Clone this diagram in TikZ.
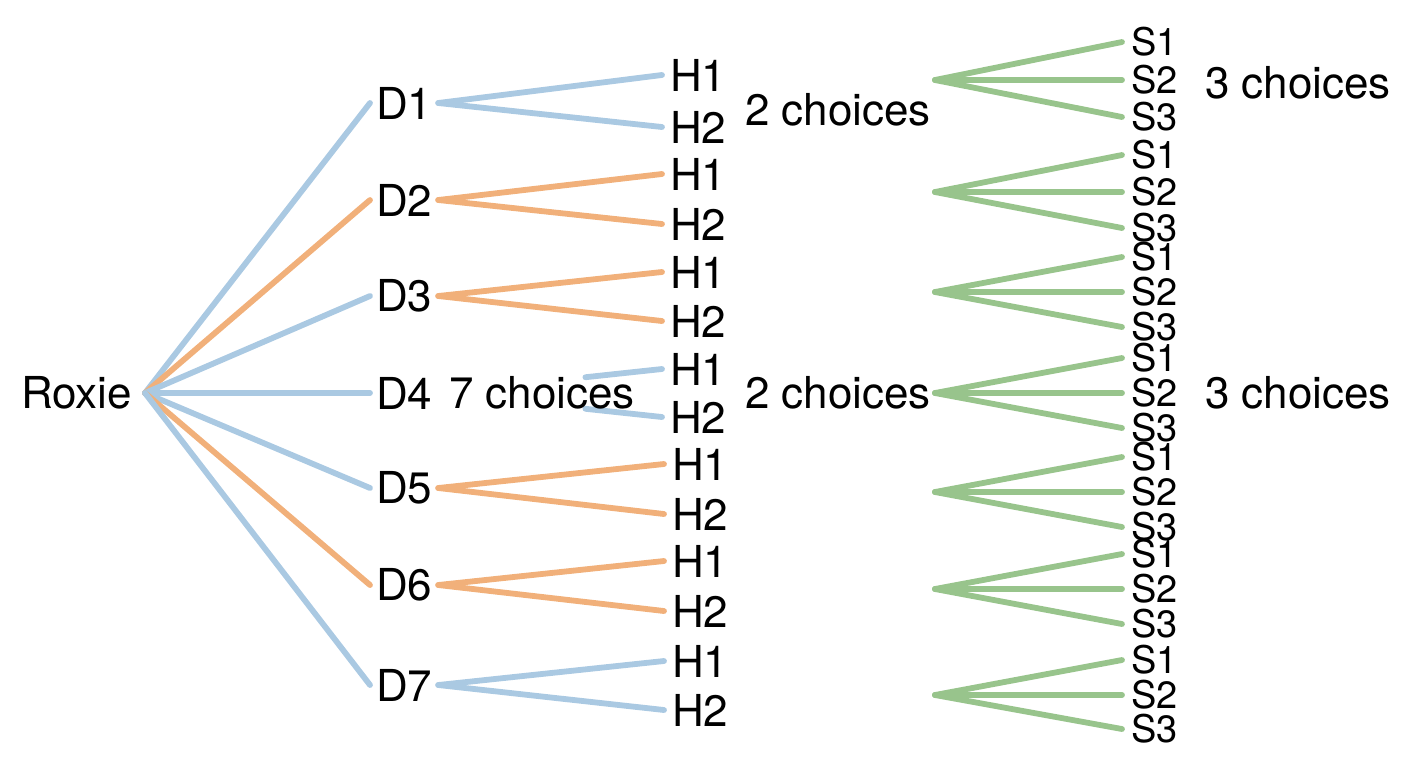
\documentclass[tikz,border=0pt]{standalone}
\usepackage{fontspec}
\setmainfont{TeX Gyre Heros}
\usepackage{tikz}

\definecolor{lineblue}{RGB}{170,201,226}
\definecolor{lineorange}{RGB}{241,176,122}
\definecolor{linegreen}{RGB}{152,196,140}

\begin{document}
\begin{tikzpicture}
	[
		x=0.5pt, y=-0.5pt,
		every node/.style = {font=\fontsize{22}{26}\selectfont, inner ysep=2pt, outer sep=0pt},
		dnode/.style = {anchor=west, inner xsep=3pt},
		hnode/.style = {anchor=west, inner xsep=4pt},
		snode/.style = {anchor=west, inner xsep=4.5pt, font=\fontsize{19}{22}\selectfont},
		branch/.style = {line width=2.9pt, line cap=round},
		bline/.style = {branch, draw=lineblue},
		oline/.style = {branch, draw=lineorange},
		gline/.style = {branch, draw=linegreen}
	]
	
	\useasboundingbox (0,0) rectangle (1408,768);
	
	\node [anchor=east, inner xsep=6.5pt] (root) at (145, 393) {Roxie};
	
	\def\y{103}
	
	\node [dnode] (d1) at (370, \y) {D1};
	\node [hnode] (h11) at (662, {\y - 28}) {H1};
	\node [hnode] (h12) at (662, {\y + 24}) {H2};
	
	\draw [bline] (root.east) -- (d1.west);
	\draw [bline] (d1.east) -- (h11.west);
	\draw [bline] (d1.east) -- (h12.west);
	
	\def\y{200}
	
	\node [dnode] (d2) at (370, \y) {D2};
	\node [hnode] (h21) at (662, {\y - 26}) {H1};
	\node [hnode] (h22) at (662, {\y + 24}) {H2};
	
	\draw [oline] (root.east) -- (d2.west);
	\draw [oline] (d2.east) -- (h21.west);
	\draw [oline] (d2.east) -- (h22.west);
	
	\def\y{296}
	
	\node [dnode] (d3) at (370, \y) {D3};
	\node [hnode] (h31) at (662, {\y - 24}) {H1};
	\node [hnode] (h32) at (662, {\y + 25}) {H2};
	
	\draw [bline] (root.east) -- (d3.west);
	\draw [oline] (d3.east) -- (h31.west);
	\draw [oline] (d3.east) -- (h32.west);
	
	\def\y{393}
	
	\node [dnode] (d4) at (370, \y) {D4};
	\node [hnode] (h41) at (662, {\y - 24}) {H1};
	\node [hnode] (h42) at (662, {\y + 24}) {H2};
	
	\draw [bline] (root.east) -- (d4.west);
	\draw [bline, shorten <=74pt] (d4.east) -- (h41.west);
	\draw [bline, shorten <=74pt] (d4.east) -- (h42.west);
	
	\def\y{488}
	
	\node [dnode] (d5) at (370, \y) {D5};
	\node [hnode] (h51) at (664, {\y - 24}) {H1};
	\node [hnode] (h52) at (664, {\y + 26}) {H2};
	
	\draw [bline] (root.east) -- (d5.west);
	\draw [oline] (d5.east) -- (h51.west);
	\draw [oline] (d5.east) -- (h52.west);
	
	\def\y{585}
	
	\node [dnode] (d6) at (370, \y) {D6};
	\node [hnode] (h61) at (664, {\y - 24}) {H1};
	\node [hnode] (h62) at (664, {\y + 26}) {H2};
	
	\draw [oline] (root.east) -- (d6.west);
	\draw [oline] (d6.east) -- (h61.west);
	\draw [oline] (d6.east) -- (h62.west);
	
	\def\y{685}
	
	\node [dnode] (d7) at (370, \y) {D7};
	\node [hnode] (h71) at (664, {\y - 24}) {H1};
	\node [hnode] (h72) at (664, {\y + 25}) {H2};
	
	\draw [bline] (root.east) -- (d7.west);
	\draw [bline] (d7.east) -- (h71.west);
	\draw [bline] (d7.east) -- (h72.west);
	
	\node (choices7) at (542, 393) {7 choices};
	\node (choicesha) at (838, 110) {2 choices};
	\node (choiceshb) at (838, 393) {2 choices};
	\node (choicessa) at (1298, 83) {3 choices};
	\node (choicessb) at (1298, 393) {3 choices};
	
	\def\y{80}
	
	\coordinate (s1) at (935, \y);
	\node [snode] (s11) at (1122, {\y - 38}) {S1};
	\node [snode] (s12) at (1122, \y) {S2};
	\node [snode] (s13) at (1122, {\y + 37}) {S3};
	
	\draw [gline] (s1) -- (s11.west);
	\draw [gline] (s1) -- (s12.west);
	\draw [gline] (s1) -- (s13.west);
	
	\def\y{192}
	
	\coordinate (s2) at (935, \y);
	\node [snode] (s21) at (1122, {\y - 37}) {S1};
	\node [snode] (s22) at (1122, \y) {S2};
	\node [snode] (s23) at (1122, {\y + 36}) {S3};
	
	\draw [gline] (s2) -- (s21.west);
	\draw [gline] (s2) -- (s22.west);
	\draw [gline] (s2) -- (s23.west);
	
	\def\y{292}
	
	\coordinate (s3) at (935, \y);
	\node [snode] (s31) at (1122, {\y - 35}) {S1};
	\node [snode] (s32) at (1122, \y) {S2};
	\node [snode] (s33) at (1122, {\y + 35}) {S3};
	
	\draw [gline] (s3) -- (s31.west);
	\draw [gline] (s3) -- (s32.west);
	\draw [gline] (s3) -- (s33.west);
	
	\def\y{393}
	
	\coordinate (s4) at (935, \y);
	\node [snode] (s41) at (1122, {\y - 35}) {S1};
	\node [snode] (s42) at (1122, \y) {S2};
	\node [snode] (s43) at (1122, {\y + 35}) {S3};
	
	\draw [gline] (s4) -- (s41.west);
	\draw [gline] (s4) -- (s42.west);
	\draw [gline] (s4) -- (s43.west);
	
	\def\y{492}
	
	\coordinate (s5) at (935, \y);
	\node [snode] (s51) at (1122, {\y - 35}) {S1};
	\node [snode] (s52) at (1122, \y) {S2};
	\node [snode] (s53) at (1122, {\y + 35}) {S3};
	
	\draw [gline] (s5) -- (s51.west);
	\draw [gline] (s5) -- (s52.west);
	\draw [gline] (s5) -- (s53.west);
	
	\def\y{589}
	
	\coordinate (s6) at (935, \y);
	\node [snode] (s61) at (1122, {\y - 35}) {S1};
	\node [snode] (s62) at (1122, \y) {S2};
	\node [snode] (s63) at (1122, {\y + 35}) {S3};
	
	\draw [gline] (s6) -- (s61.west);
	\draw [gline] (s6) -- (s62.west);
	\draw [gline] (s6) -- (s63.west);
	
	\def\y{695}
	
	\coordinate (s7) at (935, \y);
	\node [snode] (s71) at (1122, {\y - 35}) {S1};
	\node [snode] (s72) at (1122, \y) {S2};
	\node [snode] (s73) at (1122, {\y + 34}) {S3};
	
	\draw [gline] (s7) -- (s71.west);
	\draw [gline] (s7) -- (s72.west);
	\draw [gline] (s7) -- (s73.west);
	
\end{tikzpicture}
\end{document}
